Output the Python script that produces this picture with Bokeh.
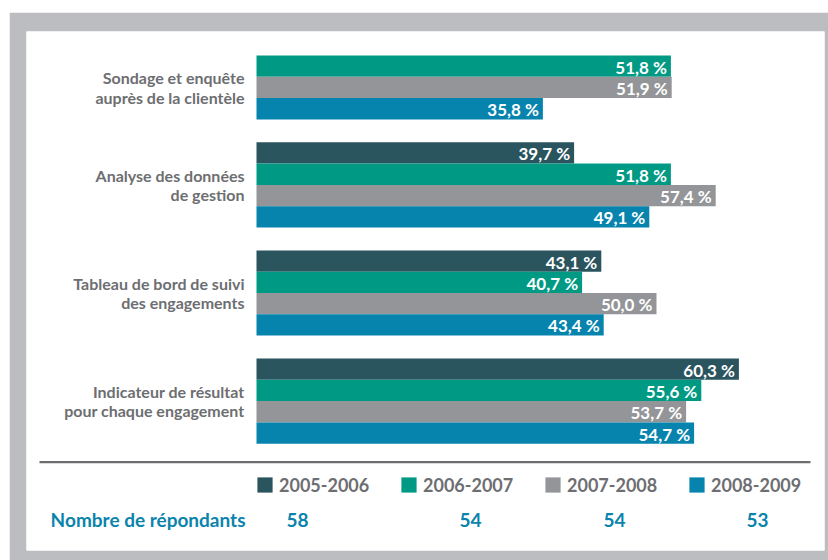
from bokeh.plotting import figure
from bokeh.models import Range1d, ColumnDataSource, Legend, LegendItem
from bokeh.core.properties import value
from bokeh.embed import file_html
from bokeh.resources import INLINE

# ---------------- data ----------------
categories = [
    "Sondage et enquête\nauprès de la clientèle",
    "Analyse des données\nde gestion",
    "Tableau de bord de suivi\ndes engagements",
    "Indicateur de résultat\npour chaque engagement",
]
series = ["2005-2006", "2006-2007", "2007-2008", "2008-2009"]
v_2005_2006 = [None, 39.7, 43.1, 60.3]
v_2006_2007 = [51.8, 51.8, 40.7, 55.6]
v_2007_2008 = [51.9, 57.4, 50.0, 53.7]
v_2008_2009 = [35.8, 49.1, 43.4, 54.7]
respondents = [58, 54, 54, 53]
respondents_label = "Nombre de répondants"
colors = ["#2a545e", "#009a84", "#939598", "#0784ad"]
values = [v_2005_2006, v_2006_2007, v_2007_2008, v_2008_2009]

# ---------------- layout constants ----------------
FONT = "Lato"
W, H = 819, 548
ML, MT, MR, MB = 17, 19, 4, 10
PAGE_L, PAGE_T = 9, 12
FRAME_L, FRAME_T = PAGE_L + ML, PAGE_T + MT
FRAME_B = PAGE_T + H - MB
X0, PXU = 256, 8.0
def dx(px):
    return (px - X0) / PXU
def dy(py):
    return py - FRAME_T

BAR_H = 21.3
GROUP_TOP0 = dy(33.7)
PERIOD = 108.1

p = figure(width=W, height=H, output_backend="svg", toolbar_location=None,
           x_range=Range1d(dx(FRAME_L), dx(FRAME_L + W - ML - MR)),
           y_range=Range1d(H - MT - MB, 0),
           x_axis_location=None, y_axis_location=None,
           min_border_left=ML, min_border_top=MT, min_border_right=MR, min_border_bottom=MB,
           border_fill_color="#bcbdc1", background_fill_color="white",
           outline_line_color=None)
p.margin = (PAGE_T, 0, 0, PAGE_L)
p.title.visible = False
p.xgrid.grid_line_color = None
p.ygrid.grid_line_color = None

renderers = []
lab_x, lab_y, lab_t = [], [], []
for j, (s, vals, c) in enumerate(zip(series, values, colors)):
    ys, rights = [], []
    for i, v in enumerate(vals):
        y = GROUP_TOP0 + i * PERIOD + (j + 0.5) * BAR_H
        ys.append(y)
        rights.append(float("nan") if v is None else v)
        if v is not None:
            lab_x.append(v)
            lab_y.append(y)
            lab_t.append(f"{v:.1f}".replace(".", ",") + " %")
    src = ColumnDataSource(dict(y=ys, right=rights))
    r = p.hbar(y="y", left=0, right="right", height=BAR_H, source=src,
               fill_color=c, line_color=None)
    renderers.append(r)

p.text(x=lab_x, y=lab_y, text=lab_t, text_color="white", text_font=value(FONT),
       text_font_style="bold", text_font_size="17px", text_align="right",
       text_baseline="middle", x_offset=-4, y_offset=1)

# category labels centred on the bars that are present
cat_y = []
for i in range(len(categories)):
    present = [j for j in range(len(series)) if values[j][i] is not None]
    top = GROUP_TOP0 + i * PERIOD + present[0] * BAR_H
    bot = GROUP_TOP0 + i * PERIOD + (present[-1] + 1) * BAR_H
    cat_y.append((top + bot) / 2)
p.text(x=[dx(244)] * len(categories), y=cat_y, text=categories, text_color="#6d6e71",
       text_font=value(FONT), text_font_style="bold", text_font_size="16px",
       text_align="right", text_baseline="middle", text_line_height=1.03)

# separator line
p.segment(x0=[dx(39)], y0=[dy(461.7)], x1=[dx(810)], y1=[dy(461.7)],
          line_color="#6d6e71", line_width=2.2)

# legend (area glyphs are inset by 10 % on each side)
items = [LegendItem(label=s, renderers=[r]) for s, r in zip(series, renderers)]
legend = Legend(items=items, orientation="horizontal",
                location=(255 - FRAME_L, FRAME_B - 495.5),
                border_line_color=None, background_fill_alpha=0, padding=0, margin=0,
                spacing=0, glyph_width=19, glyph_height=19, label_standoff=5,
                label_width=120, label_text_font=FONT, label_text_font_style="bold",
                label_text_font_size="18px", label_text_color="#6d6e71",
                label_height=19, label_text_baseline="middle")
p.add_layout(legend, "center")

# respondents row
num_x = [297, 470, 614, 757]
p.text(x=[dx(245)], y=[dy(519)], text=[respondents_label], text_color="#0a84ad",
       text_font=value(FONT), text_font_style="bold", text_font_size="19px",
       text_align="right", text_baseline="middle")
p.text(x=[dx(xx) for xx in num_x], y=[dy(519)] * 4, text=[str(n) for n in respondents],
       text_color="#0a84ad", text_font=value(FONT), text_font_style="bold",
       text_font_size="19px", text_align="center", text_baseline="middle")

open("out.html", "w").write(file_html(p, INLINE))
